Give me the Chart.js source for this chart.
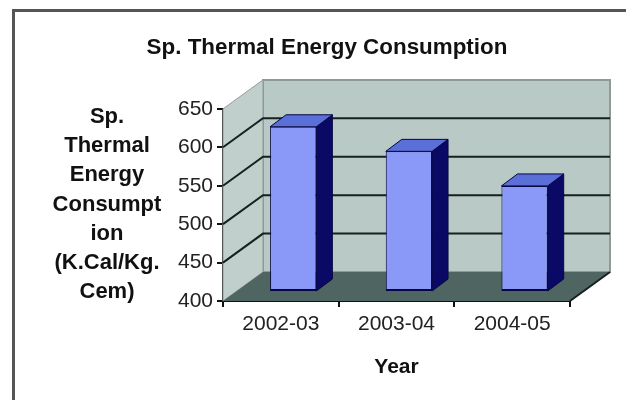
<!DOCTYPE html>
<html>
<head>
<meta charset="utf-8">
<style>
  html, body { margin: 0; padding: 0; background: #fff; }
  #frame { position: absolute; left: 12px; top: 9px; width: 626px; height: 400px;
           border-left: 3px solid #555; border-top: 3px solid #555; }
  #wrap { position: absolute; left: 0; top: 0; width: 626px; height: 400px; overflow: hidden; }
  canvas { display: block; position: relative; }
</style>
<script src="https://cdn.jsdelivr.net/npm/chart.js@4"></script>
</head>
<body>
<div id="wrap"><div id="frame"></div><canvas id="c" width="626" height="400"></canvas></div>
<script>
const categories = ['2002-03', '2003-04', '2004-05'];
const consumption = [615, 583, 538];
const yTitleLines = ['Sp.', 'Thermal', 'Energy', 'Consumpt', 'ion', '(K.Cal/Kg.', 'Cem)'];
const yMin = 400, yMax = 650, yStep = 50;

// Oblique projection of the 3D box: how far the back wall sits from the front plane.
const DEPTH_X = 40, DEPTH_Y = -29;
const BAR_SHIFT_X = 12.4, BAR_SHIFT_Y = -9;
const BAR_DEPTH_X = 16, BAR_DEPTH_Y = -12;

const FONT = 'Liberation Sans, Arial, sans-serif';

function poly(ctx, pts, fill, stroke, lw) {
  ctx.beginPath();
  pts.forEach((p, i) => i ? ctx.lineTo(p[0], p[1]) : ctx.moveTo(p[0], p[1]));
  ctx.closePath();
  if (fill) { ctx.fillStyle = fill; ctx.fill(); }
  if (stroke) { ctx.strokeStyle = stroke; ctx.lineWidth = lw || 1; ctx.stroke(); }
}

const box3d = {
  id: 'box3d',
  beforeDatasetsDraw(chart) {
    const { ctx, chartArea: a, scales: { y } } = chart;
    const top = y.getPixelForValue(yMax), bot = y.getPixelForValue(yMin);
    ctx.save();
    // back wall
    poly(ctx, [[a.left + DEPTH_X, top + DEPTH_Y], [a.right + DEPTH_X, top + DEPTH_Y],
               [a.right + DEPTH_X, bot + DEPTH_Y], [a.left + DEPTH_X, bot + DEPTH_Y]],
         '#b9c9c6', '#8f9a98', 2);
    // side wall
    poly(ctx, [[a.left, top], [a.left + DEPTH_X, top + DEPTH_Y],
               [a.left + DEPTH_X, bot + DEPTH_Y], [a.left, bot]], '#c0cfcc', '#8f9a98', 1);
    // floor
    poly(ctx, [[a.left, bot], [a.left + DEPTH_X, bot + DEPTH_Y],
               [a.right + DEPTH_X, bot + DEPTH_Y], [a.right, bot]], '#4f6562');
    // grid lines running along the side wall and the back wall
    ctx.strokeStyle = '#15201f';
    ctx.lineWidth = 2;
    for (let v = yMin + yStep; v < yMax; v += yStep) {
      const py = y.getPixelForValue(v);
      ctx.beginPath();
      ctx.moveTo(a.left, py);
      ctx.lineTo(a.left + DEPTH_X, py + DEPTH_Y);
      ctx.lineTo(a.right + DEPTH_X, py + DEPTH_Y);
      ctx.stroke();
    }
    // floor edge on the right
    ctx.beginPath();
    ctx.moveTo(a.right, bot);
    ctx.lineTo(a.right + DEPTH_X, bot + DEPTH_Y);
    ctx.stroke();
    ctx.restore();
  },
  beforeDatasetDraw(chart) {
    const ctx = chart.ctx;
    ctx.save();
    ctx.translate(BAR_SHIFT_X, BAR_SHIFT_Y);
    chart.getDatasetMeta(0).data.forEach(bar => {
      const l = bar.x - bar.width / 2, r = bar.x + bar.width / 2;
      poly(ctx, [[r, bar.y], [r + BAR_DEPTH_X, bar.y + BAR_DEPTH_Y],
                 [r + BAR_DEPTH_X, bar.base + BAR_DEPTH_Y], [r, bar.base]], '#0a0a66', '#060640', 1);
      poly(ctx, [[l, bar.y], [l + BAR_DEPTH_X, bar.y + BAR_DEPTH_Y],
                 [r + BAR_DEPTH_X, bar.y + BAR_DEPTH_Y], [r, bar.y]], '#5a6fd8', '#060640', 1);
    });
  },
  afterDatasetDraw(chart) {
    chart.ctx.restore();
  },
  afterDraw(chart) {
    // the value-axis caption stays horizontal, one stacked line per row
    const ctx = chart.ctx;
    ctx.save();
    ctx.fillStyle = '#111';
    ctx.font = 'bold 22px ' + FONT;
    ctx.textAlign = 'center';
    ctx.textBaseline = 'middle';
    yTitleLines.forEach((t, i) => ctx.fillText(t, 107, 117 + i * 29.2));
    ctx.restore();
  }
};

new Chart(document.getElementById('c'), {
  type: 'bar',
  data: {
    labels: categories,
    datasets: [{
      data: consumption,
      base: yMin,
      backgroundColor: '#8a99f8',
      borderColor: '#060640',
      borderWidth: { bottom: 2, left: 1, right: 1, top: 1 },
      borderSkipped: false,
      categoryPercentage: 1,
      barPercentage: 0.4,
      clip: false
    }]
  },
  options: {
    responsive: false,
    animation: false,
    layout: { padding: { left: 84, right: 56, top: 10, bottom: 0 } },
    plugins: {
      legend: { display: false },
      tooltip: { enabled: false },
      title: {
        display: true,
        text: 'Sp. Thermal Energy Consumption',
        color: '#111',
        font: { family: FONT, size: 22.4, weight: 'bold' },
        padding: { top: 24, bottom: 48 }
      }
    },
    scales: {
      x: {
        afterFit(s) { s.height = 400 - 301; },
        grid: { drawOnChartArea: false, color: '#111', tickLength: 6, lineWidth: 2 },
        border: { color: '#111', width: 2 },
        ticks: { color: '#222', font: { family: FONT, size: 21 }, padding: 5, maxRotation: 0 },
        title: { display: true, text: 'Year', color: '#111',
                 font: { family: FONT, size: 21, weight: 'bold' }, padding: { top: 8, bottom: 20 } }
      },
      y: {
        min: yMin, max: yMax,
        afterFit(s) { s.width = 223 - 84; },
        grid: { drawOnChartArea: false, color: '#111', tickLength: 6, lineWidth: 2 },
        border: { color: '#111', width: 2 },
        ticks: { stepSize: yStep, color: '#222', font: { family: FONT, size: 21 }, padding: 4 }
      }
    }
  },
  plugins: [box3d]
});
</script>
</body>
</html>
